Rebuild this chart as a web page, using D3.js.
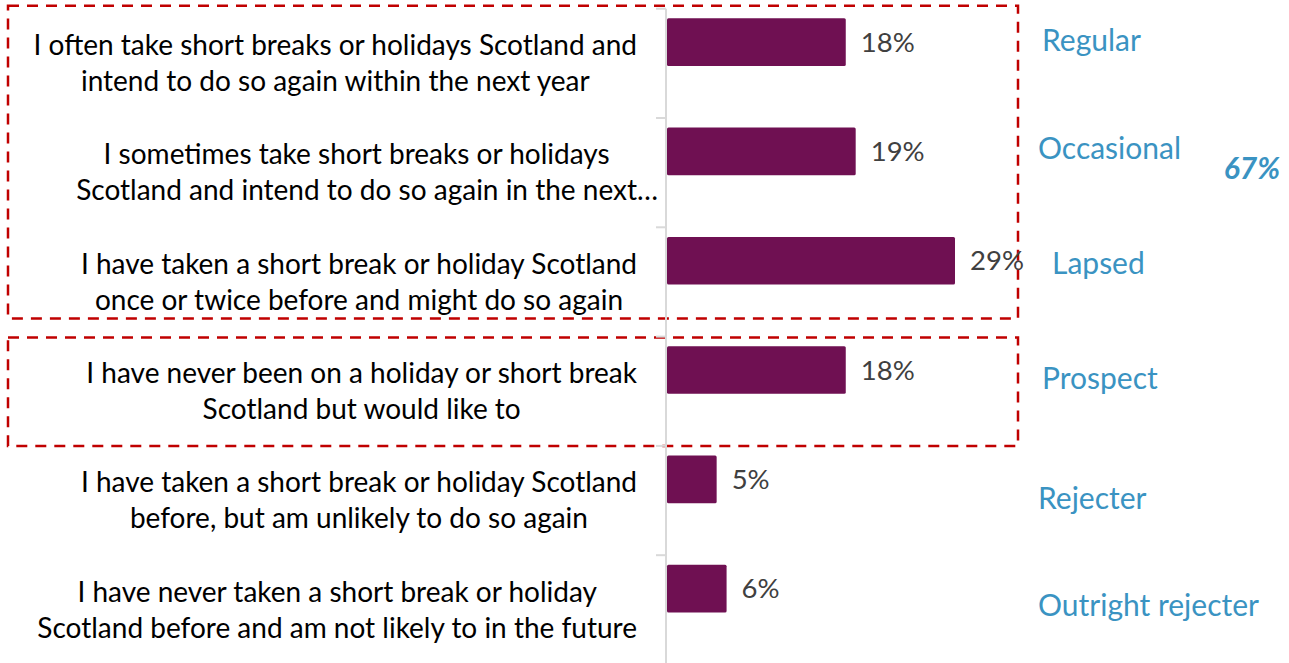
<!DOCTYPE html>
<html>
<head>
<meta charset="utf-8">
<script src="https://cdn.jsdelivr.net/npm/d3@7"></script>
<style>
  html, body { margin: 0; padding: 0; background: #fff; }
  svg { display: block; }
</style>
</head>
<body>
<svg id="chart" width="1289" height="663"></svg>
<script>
// Statements about short breaks in Scotland, one row each (line breaks as wrapped)
const statements = [
  ["I often take short breaks or holidays Scotland and", "intend to do so again within the next year"],
  ["I sometimes take short breaks or holidays", "Scotland and intend to do so again in the next"],
  ["I have taken a short break or holiday Scotland", "once or twice before and might do so again"],
  ["I have never been on a holiday or short break", "Scotland but would like to"],
  ["I have taken a short break or holiday Scotland", "before, but am unlikely to do so again"],
  ["I have never taken a short break or holiday", "Scotland before and am not likely to in the future"]
];
// rows whose label is cut off with an ellipsis
const truncated = [false, true, false, false, false, false];

// Share of respondents (%)
const shares = [18, 19, 29, 18, 5, 6];

// Segment names shown to the right of each row
const segments = ["Regular", "Occasional", "Lapsed", "Prospect", "Rejecter", "Outright rejecter"];

// Combined share of the first three segments
const combinedLabel = "67%";

const svg = d3.select("#chart");
const font = "Lato, 'Open Sans', sans-serif";

const axisX = 667;
const y = d3.scaleBand().domain(d3.range(shares.length)).range([8.7, 664.5]).paddingInner(0).paddingOuter(0);
const x = d3.scaleLinear().domain([0, 29]).range([axisX, 955]);
const bw = y.bandwidth();
const barTop = i => y(i) + bw * 0.088;
const barH = bw * 0.436;

// dashed grouping boxes
const boxStroke = "#c00000";
svg.append("rect")
  .attr("x", 8).attr("y", y(0) - 3)
  .attr("width", 1010).attr("height", y(3) - 18 - (y(0) - 3))
  .attr("fill", "none").attr("stroke", boxStroke)
  .attr("stroke-width", 2.5).attr("stroke-dasharray", "11,8");
svg.append("rect")
  .attr("x", 8).attr("y", y(3) + 1)
  .attr("width", 1010).attr("height", y(4) - y(3) - 1)
  .attr("fill", "none").attr("stroke", boxStroke)
  .attr("stroke-width", 2.5).attr("stroke-dasharray", "11,8");

// category axis with ticks at the band boundaries
const axisG = svg.append("g");
axisG.append("line")
  .attr("x1", axisX - 1).attr("x2", axisX - 1)
  .attr("y1", y(0)).attr("y2", 663)
  .attr("stroke", "#d9d9d9").attr("stroke-width", 2);
axisG.selectAll("line.tick")
  .data(d3.range(shares.length))
  .join("line")
  .attr("class", "tick")
  .attr("x1", axisX - 11).attr("x2", axisX - 1)
  .attr("y1", i => y(i)).attr("y2", i => y(i))
  .attr("stroke", "#d9d9d9").attr("stroke-width", 2);

// bars
svg.selectAll("rect.bar")
  .data(shares)
  .join("rect")
  .attr("class", "bar")
  .attr("x", x(0))
  .attr("y", (d, i) => barTop(i))
  .attr("width", d => x(d) - x(0))
  .attr("height", barH)
  .attr("rx", 1.5)
  .attr("fill", "#6f1052");

// value labels
svg.selectAll("text.value")
  .data(shares)
  .join("text")
  .attr("class", "value")
  .attr("x", d => x(d) + 15)
  .attr("y", (d, i) => barTop(i) + barH / 2)
  .attr("dy", "0.35em")
  .attr("font-family", font)
  .attr("font-size", 27.5)
  .attr("fill", "#404040")
  .text(d => d + "%");

// category labels: each block right-aligned, lines centred within the block
const labelRight = 637;
const lineGap = 36;
const labelG = svg.append("g")
  .attr("font-family", font)
  .attr("font-size", 28)
  .attr("fill", "#000");
statements.forEach((lines, i) => {
  const cy = y(i) + bw / 2;
  const texts = lines.map((ln, j) => labelG.append("text")
    .attr("y", cy + (j - (lines.length - 1) / 2) * lineGap)
    .attr("dy", "0.35em")
    .text(ln));
  const widths = texts.map(t => t.node().getComputedTextLength());
  const maxW = d3.max(widths);
  const center = labelRight - maxW / 2;
  texts.forEach((t, j) => {
    t.attr("x", center - widths[j] / 2);
    if (truncated[i] && j === lines.length - 1) t.text(lines[j] + "…");
  });
});

// segment names, placed beside the rows
const segPos = [[1042, 40], [1038, 148], [1052, 263], [1042, 378], [1038, 498], [1038, 605]];
svg.selectAll("text.segment")
  .data(segments)
  .join("text")
  .attr("class", "segment")
  .attr("x", (d, i) => segPos[i][0])
  .attr("y", (d, i) => segPos[i][1])
  .attr("dy", "0.35em")
  .attr("font-family", font)
  .attr("font-size", 30)
  .attr("fill", "#3a93c2")
  .text(d => d);

svg.append("text")
  .attr("x", 1280).attr("y", 168)
  .attr("dy", "0.35em")
  .attr("text-anchor", "end")
  .attr("font-family", font)
  .attr("font-size", 30)
  .attr("font-weight", "bold")
  .attr("font-style", "italic")
  .attr("fill", "#3a93c2")
  .text(combinedLabel);
</script>
</body>
</html>
